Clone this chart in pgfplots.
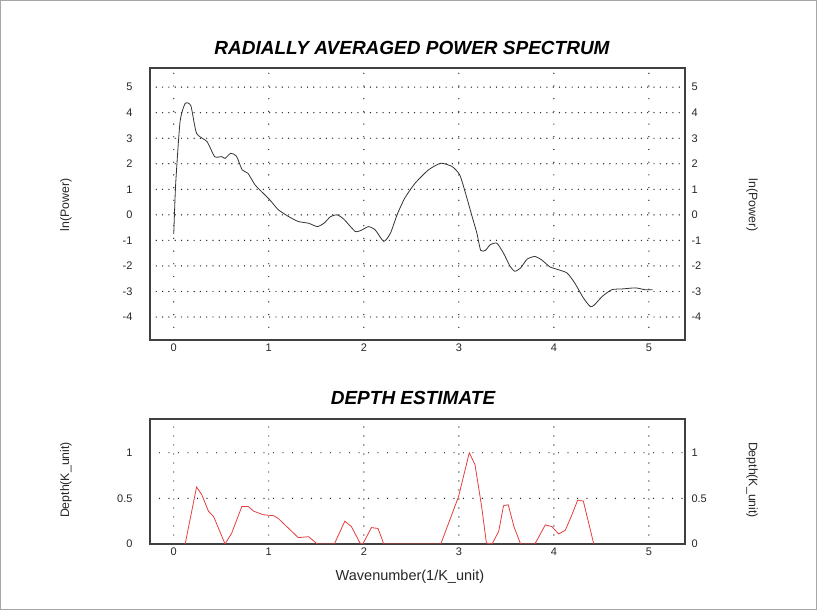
\documentclass[border=0pt]{standalone}
\usepackage{fontspec}
\setmainfont{Liberation Sans}
\usepackage{pgfplots}
\pgfplotsset{compat=1.18}

\definecolor{depthred}{RGB}{228,62,62}

\pgfplotsset{
  specbase/.style={
    scale only axis,
    xmin=-0.25, xmax=5.38,
    xtick={0,1,2,3,4,5},
    major tick length=0pt,
    axis line style={black!75, line width=1.2pt},
    tick label style={font=\fontsize{11}{13}\selectfont, text=black!85},
    /pgf/number format/assume math mode=true,
  },
  leftlabels/.style={yticklabel style={xshift=-14pt}},
  dotgrid/.style 2 args={
    xmajorgrids, ymajorgrids,
    every axis x grid/.append style={black!85, line width=1.4pt, line cap=round, dash pattern=on 0pt off #1},
    every axis y grid/.append style={black!85, line width=1.4pt, line cap=round, dash pattern=on 0pt off #2},
  },
  rightlabels/.style={
    axis line style={draw=none},
    xticklabels={},
    yticklabel pos=right,
    yticklabel style={xshift=3pt},
  },
}

\begin{document}
\begin{tikzpicture}
\useasboundingbox (0,0) rectangle (817pt,613pt);
\draw[gray!70, line width=1pt] (0.5pt,3pt) rectangle (816.5pt,612.5pt);

% ---- radially averaged power spectrum ----
\begin{axis}[specbase, leftlabels, dotgrid={12.7pt}{6.3pt},
  at={(150pt,273pt)}, anchor=south west,
  width=535pt, height=272pt,
  ymin=-4.9, ymax=5.75, ytick={-4,-3,-2,-1,0,1,2,3,4,5}]
\addplot[black!80, line width=0.8pt, smooth, tension=0.35] coordinates {
(0.00,-0.75) (0.02,1.2) (0.066,3.64) (0.12,4.36) (0.18,4.27) (0.24,3.19)
(0.35,2.87) (0.43,2.28) (0.505,2.28) (0.54,2.21) (0.60,2.41) (0.66,2.30)
(0.72,1.76) (0.78,1.63) (0.856,1.17) (0.94,0.85) (1.01,0.59) (1.10,0.20)
(1.21,-0.07) (1.31,-0.26) (1.42,-0.33) (1.51,-0.46) (1.58,-0.33) (1.65,-0.07)
(1.72,0.00) (1.79,-0.17) (1.91,-0.65) (1.98,-0.59) (2.05,-0.46) (2.12,-0.59)
(2.21,-1.04) (2.28,-0.72) (2.35,0.00) (2.43,0.65) (2.54,1.24) (2.68,1.76)
(2.81,2.02) (2.93,1.89) (3.01,1.56) (3.07,0.85) (3.14,-0.07) (3.19,-0.72)
(3.23,-1.39) (3.28,-1.39) (3.33,-1.17) (3.40,-1.11) (3.47,-1.50) (3.54,-2.02)
(3.59,-2.21) (3.65,-2.08) (3.72,-1.73) (3.80,-1.63) (3.87,-1.76) (3.96,-2.04)
(4.05,-2.15) (4.14,-2.28) (4.22,-2.67) (4.31,-3.25) (4.38,-3.58) (4.42,-3.55)
(4.51,-3.19) (4.61,-2.93) (4.72,-2.90) (4.86,-2.86) (4.96,-2.93) (5.04,-2.93)
};
\end{axis}
\begin{axis}[specbase, rightlabels,
  at={(150pt,273pt)}, anchor=south west,
  width=535pt, height=272pt,
  ymin=-4.9, ymax=5.75, ytick={-4,-3,-2,-1,0,1,2,3,4,5}]
\end{axis}

% ---- depth estimate ----
\begin{axis}[specbase, leftlabels, dotgrid={9pt}{9.5pt},
  at={(150pt,69pt)}, anchor=south west,
  width=535pt, height=125pt,
  ymin=0, ymax=1.37, ytick={0,0.5,1}, yticklabels={0,0.5,1}]
\addplot[depthred, line width=0.8pt] coordinates {
(0.12,0) (0.24,0.625) (0.295,0.54) (0.365,0.36) (0.42,0.30) (0.54,0)
(0.61,0.12) (0.716,0.41) (0.786,0.41) (0.84,0.36) (0.944,0.32) (1.05,0.31)
(1.10,0.28) (1.21,0.17) (1.31,0.07) (1.42,0.08) (1.51,0) (1.69,0)
(1.80,0.25) (1.87,0.19) (1.96,0.01) (1.99,0) (2.08,0.18) (2.15,0.17)
(2.21,0) (2.81,0) (2.997,0.52) (3.11,1.0) (3.17,0.87) (3.24,0.41)
(3.29,0.01) (3.35,0) (3.42,0.14) (3.47,0.42) (3.52,0.43) (3.58,0.19)
(3.65,0) (3.80,0) (3.91,0.21) (3.98,0.19) (4.05,0.11) (4.12,0.15)
(4.19,0.32) (4.25,0.48) (4.31,0.47) (4.42,0)
};
\end{axis}
\begin{axis}[specbase, rightlabels,
  at={(150pt,69pt)}, anchor=south west,
  width=535pt, height=125pt,
  ymin=0, ymax=1.37, ytick={0,0.5,1}, yticklabels={0,0.5,1}]
\end{axis}

% ---- titles and axis labels ----
\node[font=\fontsize{19}{22}\selectfont\bfseries\itshape] at (412pt,565pt) {RADIALLY AVERAGED POWER SPECTRUM};
\node[font=\fontsize{19}{22}\selectfont\bfseries\itshape] at (413pt,215pt) {DEPTH ESTIMATE};
\node[font=\fontsize{12.3}{14}\selectfont, text=black!85, rotate=90] at (66pt,408pt) {ln(Power)};
\node[font=\fontsize{12.3}{14}\selectfont, text=black!85, rotate=-90] at (752pt,408pt) {ln(Power)};
\node[font=\fontsize{12.3}{14}\selectfont, text=black!85, rotate=90] at (66pt,133pt) {Depth(K\_unit)};
\node[font=\fontsize{12.3}{14}\selectfont, text=black!85, rotate=-90] at (752pt,133pt) {Depth(K\_unit)};
\node[font=\fontsize{14.5}{17}\selectfont, text=black!85] at (410pt,36pt) {Wavenumber(1/K\_unit)};
\end{tikzpicture}
\end{document}
